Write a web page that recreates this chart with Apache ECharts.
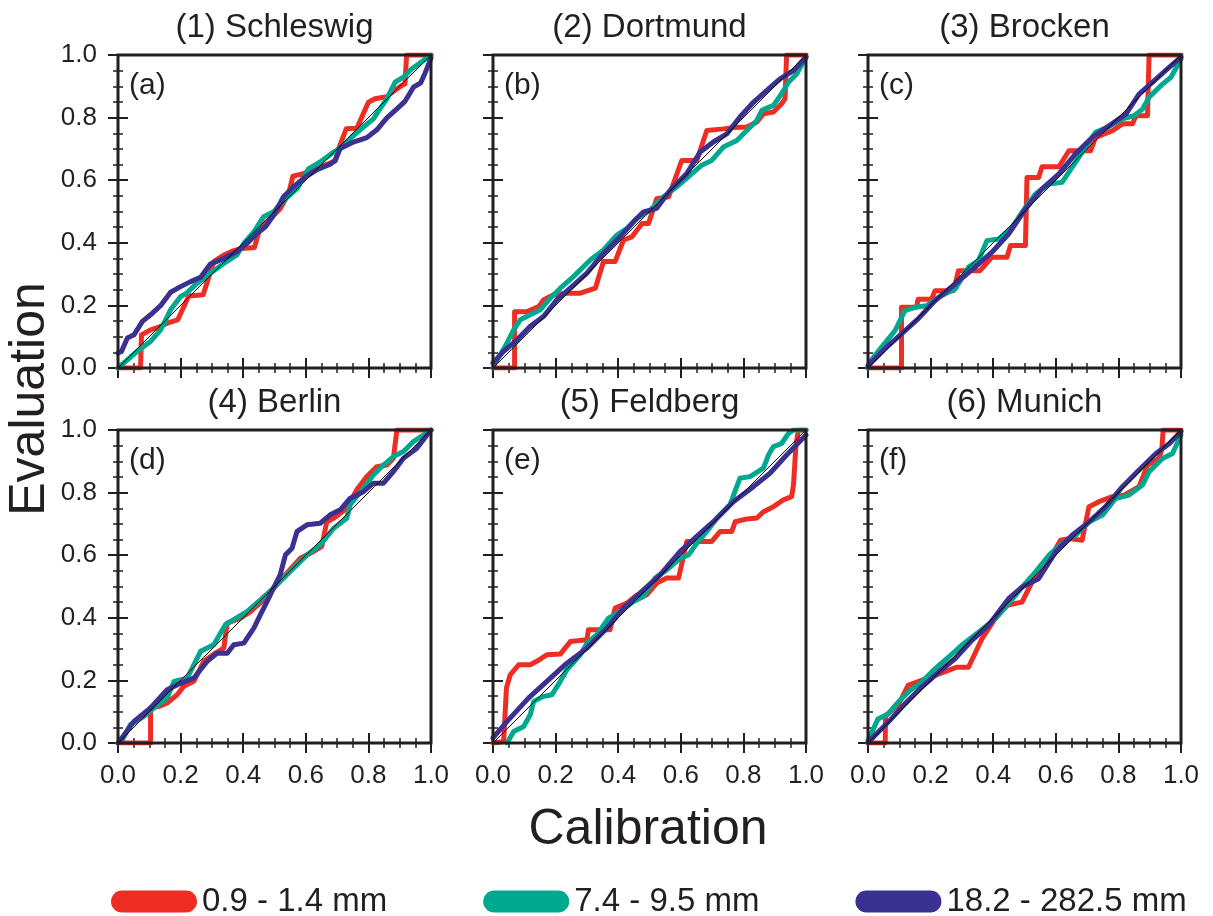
<!DOCTYPE html>
<html>
<head>
<meta charset="utf-8">
<script src="https://cdn.jsdelivr.net/npm/echarts@6/dist/echarts.min.js"></script>
<style>
  html, body { margin: 0; padding: 0; background: #ffffff; }
  #chart { width: 1213px; height: 916px; }
</style>
</head>
<body>
<div id="chart"></div>
<script>
// Panel titles, panel tags and precipitation bands
const stations = ['(1) Schleswig', '(2) Dortmund', '(3) Brocken', '(4) Berlin', '(5) Feldberg', '(6) Munich'];
const panelTags = ['(a)', '(b)', '(c)', '(d)', '(e)', '(f)'];
const bands = ['0.9 - 1.4 mm', '7.4 - 9.5 mm', '18.2 - 282.5 mm'];
const bandColors = ['#EE2D24', '#00A88F', '#3A3191'];
const tickLabels = ['0.0', '0.2', '0.4', '0.6', '0.8', '1.0'];

// Calibration (x) vs evaluation (y) cumulative probabilities, per station and band
const schleswigLow = [[0,0],[0.072,0],[0.075,0.106],[0.104,0.122],[0.131,0.131],[0.157,0.143],[0.191,0.154],[0.226,0.230],[0.272,0.234],[0.306,0.340],[0.338,0.361],[0.370,0.375],[0.396,0.382],[0.436,0.385],[0.453,0.446],[0.481,0.472],[0.519,0.510],[0.545,0.557],[0.559,0.613],[0.582,0.618],[0.625,0.632],[0.667,0.651],[0.694,0.661],[0.705,0.701],[0.729,0.764],[0.763,0.766],[0.800,0.849],[0.821,0.860],[0.859,0.867],[0.880,0.884],[0.906,0.902],[0.917,0.908],[0.922,1.0],[1.0,1.0]];
const schleswigMid = [[0,0],[0.04,0.035],[0.07,0.06],[0.104,0.085],[0.136,0.122],[0.168,0.186],[0.2,0.228],[0.22,0.24],[0.253,0.271],[0.295,0.303],[0.338,0.334],[0.380,0.361],[0.402,0.398],[0.434,0.435],[0.465,0.483],[0.497,0.499],[0.529,0.536],[0.572,0.573],[0.609,0.637],[0.646,0.658],[0.689,0.690],[0.715,0.706],[0.747,0.738],[0.784,0.770],[0.816,0.796],[0.837,0.828],[0.859,0.860],[0.885,0.913],[0.912,0.929],[0.938,0.955],[1,1]];
const schleswigHigh = [[0,0.048],[0.011,0.053],[0.030,0.096],[0.051,0.106],[0.078,0.149],[0.104,0.170],[0.136,0.199],[0.168,0.242],[0.200,0.260],[0.232,0.276],[0.264,0.290],[0.295,0.332],[0.338,0.350],[0.380,0.372],[0.412,0.398],[0.444,0.430],[0.471,0.451],[0.497,0.488],[0.529,0.547],[0.561,0.579],[0.598,0.610],[0.636,0.634],[0.678,0.651],[0.694,0.664],[0.710,0.701],[0.752,0.722],[0.795,0.736],[0.827,0.761],[0.859,0.799],[0.891,0.828],[0.917,0.852],[0.944,0.897],[0.967,0.911],[0.981,0.942],[1.0,0.99]];

const dortmundLow = [[0,0],[0.069,0],[0.069,0.180],[0.109,0.180],[0.146,0.196],[0.162,0.218],[0.194,0.234],[0.236,0.239],[0.279,0.239],[0.327,0.255],[0.353,0.340],[0.390,0.340],[0.417,0.409],[0.444,0.419],[0.476,0.462],[0.497,0.462],[0.523,0.541],[0.561,0.547],[0.603,0.663],[0.651,0.663],[0.683,0.759],[0.736,0.764],[0.768,0.768],[0.811,0.770],[0.843,0.786],[0.864,0.812],[0.896,0.818],[0.922,0.844],[0.933,0.860],[0.938,1.0],[1,1]];
const dortmundMid = [[0,0],[0.007,0.016],[0.039,0.069],[0.066,0.122],[0.087,0.154],[0.119,0.170],[0.151,0.186],[0.183,0.223],[0.215,0.255],[0.257,0.292],[0.311,0.345],[0.353,0.377],[0.396,0.425],[0.428,0.446],[0.460,0.478],[0.502,0.504],[0.545,0.547],[0.587,0.579],[0.630,0.616],[0.667,0.648],[0.699,0.663],[0.736,0.706],[0.779,0.727],[0.811,0.759],[0.843,0.791],[0.859,0.823],[0.896,0.839],[0.922,0.876],[0.944,0.913],[0.970,0.939],[1.0,0.993]];
const dortmundHigh = [[0,0.016],[0.034,0.053],[0.077,0.090],[0.119,0.133],[0.162,0.165],[0.204,0.218],[0.247,0.255],[0.300,0.303],[0.353,0.366],[0.406,0.419],[0.449,0.467],[0.481,0.499],[0.523,0.510],[0.566,0.568],[0.619,0.621],[0.662,0.690],[0.704,0.722],[0.747,0.748],[0.789,0.802],[0.832,0.849],[0.874,0.886],[0.917,0.924],[0.960,0.950],[1,0.993]];

const brockenLow = [[0,0],[0.107,0],[0.107,0.194],[0.155,0.194],[0.160,0.220],[0.203,0.220],[0.214,0.247],[0.273,0.247],[0.289,0.311],[0.358,0.311],[0.396,0.354],[0.444,0.354],[0.455,0.391],[0.503,0.391],[0.508,0.609],[0.545,0.609],[0.556,0.643],[0.610,0.643],[0.642,0.694],[0.711,0.694],[0.727,0.737],[0.781,0.758],[0.813,0.780],[0.845,0.780],[0.856,0.806],[0.893,0.806],[0.898,1.0],[1,1]];
const brockenMid = [[0,0],[0.005,0.018],[0.043,0.066],[0.086,0.119],[0.118,0.183],[0.150,0.194],[0.187,0.199],[0.225,0.226],[0.278,0.252],[0.321,0.322],[0.353,0.343],[0.380,0.407],[0.417,0.412],[0.460,0.449],[0.503,0.513],[0.535,0.556],[0.578,0.588],[0.620,0.593],[0.652,0.641],[0.695,0.705],[0.727,0.753],[0.770,0.771],[0.813,0.796],[0.850,0.806],[0.877,0.827],[0.898,0.865],[0.941,0.907],[0.968,0.929],[1,0.987]];
const brockenHigh = [[0,0.007],[0.064,0.071],[0.107,0.109],[0.160,0.157],[0.214,0.215],[0.278,0.268],[0.342,0.322],[0.396,0.370],[0.449,0.428],[0.503,0.508],[0.556,0.572],[0.610,0.620],[0.663,0.684],[0.717,0.737],[0.770,0.774],[0.824,0.811],[0.866,0.875],[0.920,0.923],[0.963,0.961],[1,0.993]];

const berlinLow = [[0,0],[0.104,0],[0.104,0.112],[0.131,0.117],[0.157,0.128],[0.189,0.154],[0.210,0.181],[0.242,0.197],[0.274,0.261],[0.311,0.287],[0.338,0.303],[0.349,0.383],[0.391,0.399],[0.423,0.420],[0.465,0.457],[0.497,0.495],[0.540,0.543],[0.582,0.590],[0.625,0.612],[0.651,0.628],[0.667,0.707],[0.689,0.718],[0.731,0.750],[0.763,0.809],[0.795,0.851],[0.827,0.883],[0.859,0.888],[0.880,0.910],[0.891,1.0],[1,1]];
const berlinMid = [[0,0],[0.014,0.011],[0.040,0.059],[0.083,0.085],[0.115,0.112],[0.157,0.144],[0.179,0.197],[0.221,0.207],[0.264,0.293],[0.306,0.314],[0.343,0.378],[0.412,0.420],[0.455,0.457],[0.497,0.495],[0.550,0.548],[0.604,0.601],[0.646,0.633],[0.689,0.686],[0.731,0.718],[0.742,0.761],[0.784,0.814],[0.816,0.856],[0.848,0.888],[0.880,0.915],[0.912,0.931],[0.944,0.963],[1,1]];
const berlinHigh = [[0,0],[0.009,0.011],[0.051,0.069],[0.104,0.112],[0.157,0.170],[0.200,0.191],[0.242,0.207],[0.285,0.261],[0.317,0.287],[0.349,0.287],[0.370,0.314],[0.402,0.319],[0.434,0.367],[0.455,0.410],[0.476,0.452],[0.497,0.495],[0.518,0.537],[0.535,0.601],[0.556,0.622],[0.572,0.676],[0.604,0.697],[0.646,0.702],[0.678,0.729],[0.710,0.745],[0.742,0.782],[0.784,0.803],[0.816,0.830],[0.848,0.830],[0.880,0.867],[0.912,0.910],[0.954,0.941],[1,1]];

const feldbergLow = [[0,0],[0.034,0.005],[0.043,0.176],[0.055,0.218],[0.082,0.250],[0.119,0.250],[0.140,0.261],[0.172,0.282],[0.215,0.284],[0.247,0.324],[0.300,0.330],[0.305,0.362],[0.374,0.362],[0.390,0.431],[0.428,0.447],[0.460,0.473],[0.491,0.473],[0.523,0.511],[0.555,0.527],[0.593,0.527],[0.619,0.644],[0.667,0.644],[0.699,0.644],[0.726,0.676],[0.763,0.676],[0.774,0.707],[0.811,0.716],[0.843,0.719],[0.864,0.739],[0.896,0.755],[0.928,0.777],[0.954,0.787],[0.960,0.824],[0.968,0.952],[0.976,1.0],[1,1]];
const feldbergMid = [[0.045,0],[0.066,0.037],[0.098,0.053],[0.119,0.090],[0.130,0.133],[0.162,0.149],[0.188,0.154],[0.215,0.197],[0.236,0.234],[0.279,0.282],[0.300,0.319],[0.332,0.346],[0.369,0.399],[0.406,0.420],[0.449,0.452],[0.481,0.468],[0.518,0.527],[0.555,0.553],[0.598,0.590],[0.625,0.601],[0.651,0.638],[0.683,0.676],[0.715,0.718],[0.757,0.761],[0.789,0.846],[0.821,0.851],[0.864,0.878],[0.880,0.920],[0.896,0.947],[0.922,0.957],[0.944,0.989],[0.960,1.0],[1,1]];
const feldbergHigh = [[0,0.016],[0.045,0.069],[0.114,0.144],[0.172,0.197],[0.236,0.255],[0.300,0.303],[0.364,0.367],[0.417,0.431],[0.481,0.489],[0.534,0.537],[0.598,0.612],[0.651,0.660],[0.704,0.707],[0.768,0.771],[0.832,0.819],[0.885,0.862],[0.938,0.920],[1,0.984]];

const munichLow = [[0,0],[0.055,0],[0.056,0.088],[0.064,0.093],[0.096,0.120],[0.128,0.184],[0.171,0.200],[0.214,0.216],[0.257,0.232],[0.283,0.242],[0.321,0.242],[0.364,0.333],[0.406,0.397],[0.444,0.440],[0.492,0.450],[0.524,0.514],[0.567,0.562],[0.615,0.648],[0.642,0.653],[0.684,0.648],[0.706,0.755],[0.738,0.771],[0.781,0.787],[0.818,0.792],[0.866,0.819],[0.893,0.888],[0.930,0.909],[0.939,0.941],[0.943,1.0],[1,1]];
const munichMid = [[0,0.007],[0.032,0.077],[0.064,0.093],[0.096,0.130],[0.134,0.168],[0.171,0.194],[0.214,0.237],[0.257,0.274],[0.299,0.312],[0.353,0.354],[0.406,0.397],[0.449,0.445],[0.492,0.498],[0.535,0.546],[0.578,0.600],[0.620,0.637],[0.663,0.664],[0.706,0.706],[0.749,0.728],[0.791,0.781],[0.834,0.792],[0.877,0.824],[0.898,0.867],[0.941,0.909],[0.973,0.925],[1,0.984]];
const munichHigh = [[0,0.002],[0.064,0.066],[0.118,0.125],[0.171,0.178],[0.225,0.226],[0.278,0.269],[0.332,0.328],[0.385,0.376],[0.449,0.461],[0.492,0.498],[0.545,0.525],[0.599,0.610],[0.652,0.664],[0.706,0.706],[0.759,0.755],[0.813,0.819],[0.866,0.872],[0.920,0.925],[0.963,0.957],[1,0.995]];

const panelSeries = [
  [schleswigLow, schleswigMid, schleswigHigh],
  [dortmundLow, dortmundMid, dortmundHigh],
  [brockenLow, brockenMid, brockenHigh],
  [berlinLow, berlinMid, berlinHigh],
  [feldbergLow, feldbergMid, feldbergHigh],
  [munichLow, munichMid, munichHigh]
];
const identityLine = [[0, 0], [1, 1]];

// Layout of the 2 x 3 panel grid (pixels)
const FONT = '"Liberation Sans", Arial, Helvetica, sans-serif';
const INK = '#231F20';
const panelLefts = [118, 493, 868];
const panelTops = [55, 430];
const panelSize = 313;

const grids = [], xAxes = [], yAxes = [], series = [], graphics = [];

function axisCommon(showLabel, labelMargin) {
  return {
    type: 'value', min: 0, max: 1, interval: 0.2,
    axisLine: { show: false },
    axisTick: { show: true, inside: true, length: 10, lineStyle: { color: INK, width: 2 } },
    minorTick: { show: true, splitNumber: 4, length: 5, lineStyle: { color: INK, width: 1.5 } },
    splitLine: { show: false },
    axisLabel: {
      show: showLabel, margin: labelMargin, color: INK, fontFamily: FONT, fontSize: 26,
      formatter: v => tickLabels[Math.round(v / 0.2)]
    }
  };
}

stations.forEach((name, i) => {
  const row = Math.floor(i / 3), col = i % 3;
  const left = panelLefts[col], top = panelTops[row];
  grids.push({
    left: left, top: top, width: panelSize, height: panelSize,
    show: true, z: 10, backgroundColor: 'transparent',
    borderColor: INK, borderWidth: 3, containLabel: false
  });
  xAxes.push(Object.assign(axisCommon(row === 1, 20), { gridIndex: i, position: 'bottom' }));
  xAxes.push(Object.assign(axisCommon(false, 8), { gridIndex: i, position: 'top' }));
  yAxes.push(Object.assign(axisCommon(col === 0, 21), { gridIndex: i, position: 'left' }));
  yAxes.push(Object.assign(axisCommon(false, 8), { gridIndex: i, position: 'right' }));

  panelSeries[i].forEach((data, k) => {
    series.push({
      name: bands[k], type: 'line', xAxisIndex: 2 * i, yAxisIndex: 2 * i,
      data: data, showSymbol: false, symbol: 'none', clip: true, z: 2 + k,
      lineStyle: { color: bandColors[k], width: 5, join: 'round', cap: 'round' },
      itemStyle: { color: bandColors[k] }
    });
  });
  series.push({
    name: 'identity', type: 'line', xAxisIndex: 2 * i, yAxisIndex: 2 * i,
    data: identityLine, showSymbol: false, symbol: 'none', z: 6, silent: true,
    lineStyle: { color: '#000000', width: 1 }
  });

  graphics.push({
    type: 'text', x: left + panelSize / 2, y: top - 27,
    style: { text: name, fill: INK, font: '33px ' + FONT, textAlign: 'center', textVerticalAlign: 'middle' }
  });
  graphics.push({
    type: 'text', x: left + 11, y: top + 31, z: 20,
    style: { text: panelTags[i], fill: INK, font: '30px ' + FONT, textAlign: 'left', textVerticalAlign: 'middle' }
  });
});

graphics.push({
  type: 'text', x: 648, y: 830,
  style: { text: 'Calibration', fill: INK, font: '50px ' + FONT, textAlign: 'center', textVerticalAlign: 'middle' }
});
graphics.push({
  type: 'text', x: 30, y: 399, rotation: Math.PI / 2,
  style: { text: 'Evaluation', fill: INK, font: '50px ' + FONT, textAlign: 'center', textVerticalAlign: 'middle' }
});

const chart = echarts.init(document.getElementById('chart'), null, { renderer: 'canvas' });
chart.setOption({
  backgroundColor: '#ffffff',
  animation: false,
  grid: grids,
  xAxis: xAxes,
  yAxis: yAxes,
  series: series,
  graphic: graphics,
  legend: {
    data: bands, left: 106, top: 880, orient: 'horizontal',
    itemWidth: 86, itemHeight: 22, itemGap: 96,
    icon: 'path://M11,0L75,0A11,11,0,0,1,75,22L11,22A11,11,0,0,1,11,0Z',
    selectedMode: false,
    textStyle: { color: INK, fontFamily: FONT, fontSize: 33, padding: [0, 0, 0, 0] }
  }
});
</script>
</body>
</html>
